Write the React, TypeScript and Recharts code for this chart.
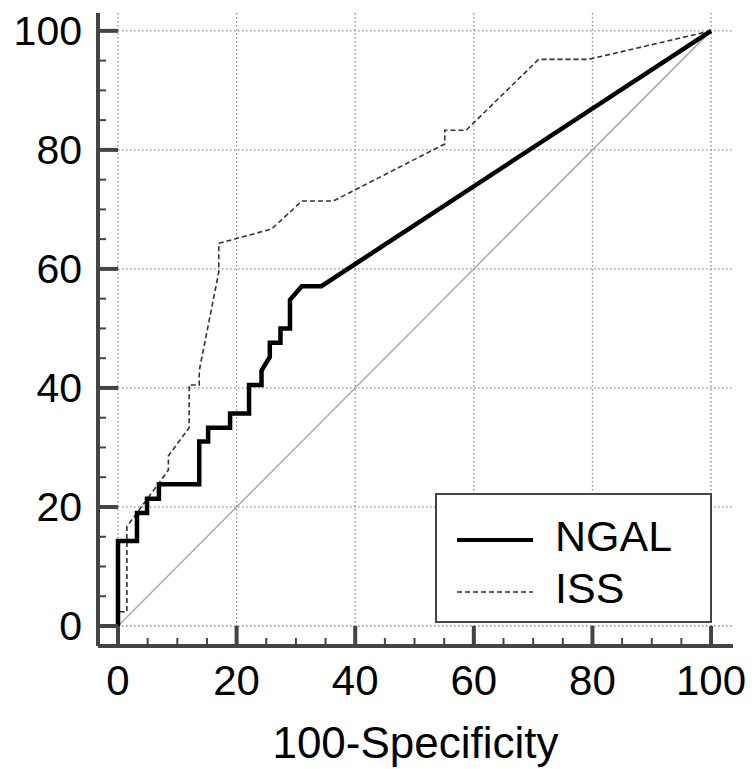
import {
  CartesianGrid,
  Label,
  Legend,
  Line,
  LineChart,
  XAxis,
  YAxis,
} from "recharts";

// ROC points (x = 100-Specificity, y = Sensitivity)
const ngalFpr = [0, 0, 3.2, 3.2, 4.9, 4.9, 6.9, 6.9, 13.7, 13.7, 15.2, 15.2, 18.9, 18.9, 22.1, 22.1, 24.2, 24.2, 25.6, 25.6, 27.4, 27.4, 29.0, 29.0, 31.0, 34.3, 100];
const ngalTpr = [0, 14.3, 14.3, 19.0, 19.0, 21.4, 21.4, 23.8, 23.8, 31.0, 31.0, 33.3, 33.3, 35.7, 35.7, 40.5, 40.5, 42.9, 45.2, 47.6, 47.6, 50.0, 50.0, 54.8, 57.1, 57.1, 100];

const issFpr = [0, 0, 1.5, 1.5, 8.5, 8.5, 12.0, 12.0, 13.7, 13.7, 17.0, 17.0, 25.9, 31.0, 36.3, 55.1, 55.1, 58.7, 70.9, 79.3, 100];
const issTpr = [0, 2.4, 2.4, 16.7, 26.2, 28.6, 33.3, 40.5, 40.5, 42.9, 59.5, 64.3, 66.7, 71.4, 71.4, 81.0, 83.3, 83.3, 95.2, 95.2, 100];

const diagX = [0, 100];
const diagY = [0, 100];

const majorTicks = [0, 20, 40, 60, 80, 100];
const allTicks = [0, 5, 10, 15, 20, 25, 30, 35, 40, 45, 50, 55, 60, 65, 70, 75, 80, 85, 90, 95, 100];

const seriesNames = ["NGAL", "ISS"];

const FONT = '"Liberation Sans", Arial, Helvetica, sans-serif';
const AXIS = "#444";

const toPoints = (xs: number[], ys: number[]) => xs.map((x, i) => ({ x, y: ys[i] }));

const ngalData = toPoints(ngalFpr, ngalTpr);
const issData = toPoints(issFpr, issTpr);
const diagData = toPoints(diagX, diagY);

function XTick(props: any) {
  const { x, y, payload } = props;
  const major = majorTicks.includes(payload.value);
  return (
    <g>
      <line x1={x} y1={y} x2={x} y2={y - (major ? 20 : 8)} stroke={AXIS} strokeWidth={major ? 4 : 2} />
      {major && (
        <text x={x} y={y + 49} textAnchor="middle" fontSize={42} fill="#000" fontFamily={FONT}>
          {payload.value}
        </text>
      )}
    </g>
  );
}

function YTick(props: any) {
  const { x, y, payload } = props;
  const major = majorTicks.includes(payload.value);
  return (
    <g>
      <line x1={x} y1={y} x2={x + (major ? 20 : 8)} y2={y} stroke={AXIS} strokeWidth={major ? 4 : 2} />
      {major && (
        <text x={x - 16} y={y + 14} textAnchor="end" fontSize={41} fill="#000" fontFamily={FONT}>
          {payload.value}
        </text>
      )}
    </g>
  );
}

function RocLegend() {
  return (
    <svg width={277} height={130} style={{ display: "block" }}>
      <rect x={1} y={1} width={275} height={128} fill="#fff" stroke={AXIS} strokeWidth={2} />
      <line x1={22} y1={47} x2={98} y2={47} stroke="#000" strokeWidth={4} />
      <text x={120} y={58} fontSize={43} fontFamily={FONT} fill="#000">
        {seriesNames[0]}
      </text>
      <line x1={22} y1={99} x2={98} y2={99} stroke="#333" strokeWidth={1.5} strokeDasharray="5 3" />
      <text x={120} y={110} fontSize={43} fontFamily={FONT} fill="#000">
        {seriesNames[1]}
      </text>
    </svg>
  );
}

export default function App() {
  return (
    <div style={{ position: "absolute", left: 0, top: 0, width: 756, height: 769, background: "#fff" }}>
      <LineChart
        width={756}
        height={769}
        margin={{ top: 13, right: 23, bottom: 3, left: 0 }}
        style={{ fontFamily: FONT }}
      >
        <CartesianGrid
          stroke="#8a8a8a"
          strokeWidth={1.3}
          strokeDasharray="1.5 2.5"
          horizontalValues={majorTicks}
          verticalValues={majorTicks}
        />
        <XAxis
          dataKey="x"
          type="number"
          domain={[-3.37, 103.7]}
          allowDataOverflow
          ticks={allTicks}
          interval={0}
          tickSize={0}
          tickMargin={0}
          tickLine={false}
          tick={(p: any) => <XTick {...p} />}
          axisLine={{ stroke: AXIS, strokeWidth: 4 }}
          height={120}
        >
          <Label
            value="100-Specificity"
            position="insideBottom"
            offset={8}
            fontSize={44}
            fill="#000"
            fontFamily={FONT}
          />
        </XAxis>
        <YAxis
          dataKey="y"
          type="number"
          domain={[-3.36, 103.0]}
          allowDataOverflow
          ticks={allTicks}
          interval={0}
          tickSize={0}
          tickMargin={0}
          tickLine={false}
          tick={(p: any) => <YTick {...p} />}
          axisLine={{ stroke: AXIS, strokeWidth: 4 }}
          width={98}
        />
        <Line
          data={diagData}
          dataKey="y"
          type="linear"
          stroke="#aaa"
          strokeWidth={1.5}
          dot={false}
          activeDot={false}
          legendType="none"
          isAnimationActive={false}
        />
        <Line
          data={issData}
          dataKey="y"
          name={seriesNames[1]}
          type="linear"
          stroke="#333"
          strokeWidth={1.6}
          strokeDasharray="5 3"
          dot={false}
          activeDot={false}
          isAnimationActive={false}
        />
        <Line
          data={ngalData}
          dataKey="y"
          name={seriesNames[0]}
          type="linear"
          stroke="#000"
          strokeWidth={4.5}
          dot={false}
          activeDot={false}
          isAnimationActive={false}
        />
        <Legend
          layout="vertical"
          align="center"
          verticalAlign="middle"
          content={() => <RocLegend />}
          wrapperStyle={{ left: 435, top: 493, width: 277, height: 130 }}
        />
      </LineChart>
    </div>
  );
}
